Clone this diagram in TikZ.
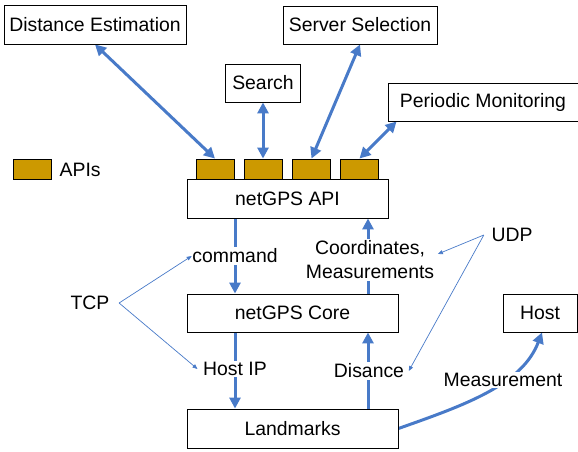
\documentclass[tikz,border=0pt]{standalone}
\usepackage{fontspec}
\setmainfont{Liberation Sans}
\usetikzlibrary{arrows.meta}
\definecolor{flow}{RGB}{72,122,200}
\definecolor{apigold}{RGB}{204,153,0}
\pgfdeclarelayer{bg}
\pgfsetlayers{bg,main}
\tikzset{
  box/.style={draw=black, fill=white, line width=0.9pt, inner sep=0pt,
    font=\fontsize{19.4}{22}\selectfont},
  apibox/.style={draw=black, fill=apigold, line width=0.9pt, inner sep=0pt,
    minimum width=38pt, minimum height=20pt},
  lbl/.style={fill=white, inner sep=1.5pt, font=\fontsize{19.4}{24}\selectfont, align=center},
  plain/.style={inner sep=1.5pt, font=\fontsize{19.4}{24}\selectfont},
  thick arrow/.style={draw=flow, line width=3pt,
    -{Triangle[length=11pt,width=11pt]}},
  both arrow/.style={draw=flow, line width=3pt,
    {Triangle[length=11pt,width=11pt]}-{Triangle[length=11pt,width=11pt]}},
  thin arrow/.style={draw=flow, line width=0.7pt,
    -{Triangle[length=5pt,width=4pt]}},
}
\begin{document}
\begin{tikzpicture}[x=1pt,y=-1pt]
\useasboundingbox (0,0) rectangle (578,452);

% application boxes
\node[box, minimum width=182pt, minimum height=39pt] (distest) at (95,24.5) {Distance Estimation};
\node[box, minimum width=75pt, minimum height=38pt] (search) at (263,83) {Search};
\node[box, minimum width=154pt, minimum height=38pt] (server) at (360,25) {Server Selection};
\node[box, minimum width=190pt, minimum height=38pt] (periodic) at (483,102) {Periodic Monitoring};

% API slots and the API layer
\node[apibox] (api1) at (215,169) {};
\node[apibox] (api2) at (263.5,169) {};
\node[apibox] (api3) at (311.5,169) {};
\node[apibox] (api4) at (359.5,169) {};
\node[box, minimum width=201pt, minimum height=39pt] (api) at (287.5,198.5) {netGPS API};

% legend
\node[apibox] (legend) at (32.5,169.5) {};
\node[plain, anchor=west] (legendtxt) at (58,169.5) {APIs};

% core, landmarks, host
\node[box, minimum width=211pt, minimum height=38pt] (core) at (292.5,313) {netGPS Core};
\node[box, minimum width=211pt, minimum height=39pt] (landmarks) at (292.5,428.5) {Landmarks};
\node[box, minimum width=74pt, minimum height=38pt] (host) at (540,313) {Host};

% message labels
\node[lbl] (cmd) at (235,256) {command};
\node[lbl] (hostip) at (235,369) {Host IP};
\node[lbl] (coord) at (370,260) {Coordinates,\\Measurements};
\node[lbl] (dist) at (369,371) {Disance};
\node[lbl] (meas) at (503,380) {Measurement};
\node[plain] (tcp) at (90,303) {TCP};
\node[plain] (udp) at (512,235) {UDP};

\begin{pgfonlayer}{bg}
  % applications <-> API slots
  \draw[both arrow] (distest.south) -- (api1.north);
  \draw[both arrow] (search.south) -- (search.south |- api2.north);
  \draw[both arrow] (server.south) -- (api3.north);
  \draw[both arrow] ([xshift=9pt]periodic.south west) -- (api4.north);

  % downward path: API -> core -> landmarks
  \draw[thick arrow] (api.south -| cmd) -- (core.north -| cmd);
  \draw[thick arrow] (core.south -| hostip) -- (landmarks.north -| hostip);

  % upward path: landmarks -> core -> API
  \draw[thick arrow] (landmarks.north -| 368,0) -- (core.south -| 368,0);
  \draw[thick arrow] (core.north -| 368,0) -- (api.south -| 368,0);

  % landmarks measure the host
  \draw[thick arrow] (landmarks.east) .. controls (465,405) and (522,385) .. ([xshift=2pt]host.south);
\end{pgfonlayer}

% protocol annotations
\draw[thin arrow] ([xshift=8pt]tcp.east) -- ([xshift=1pt]cmd.west);
\draw[thin arrow] ([xshift=8pt]tcp.east) -- ([xshift=-4pt]hostip.west);
\draw[thin arrow] ([xshift=-6pt]udp.west) -- ([xshift=2pt,yshift=6pt]coord.east);
\draw[thin arrow] ([xshift=-6pt]udp.west) -- ([xshift=3pt]dist.east);
\end{tikzpicture}
\end{document}
